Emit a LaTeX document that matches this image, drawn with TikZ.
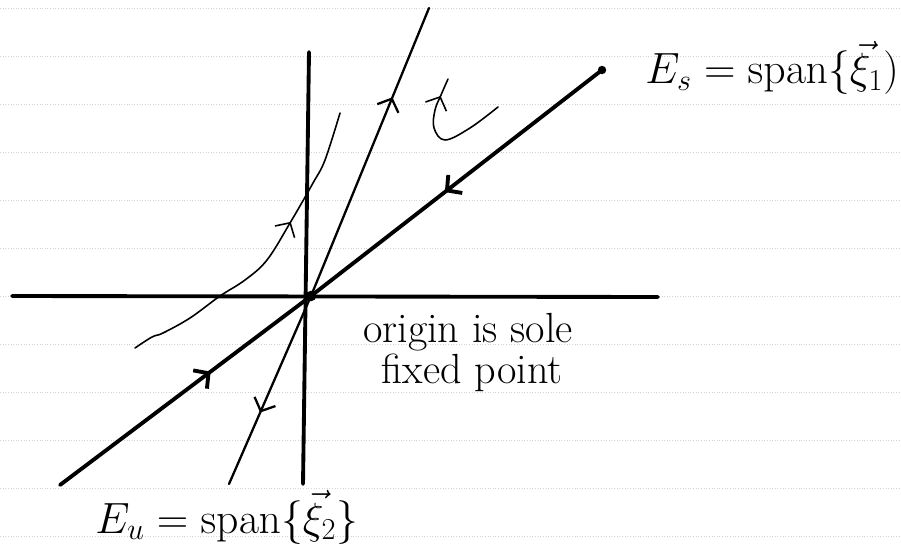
\documentclass[tikz,border=0pt]{standalone}
\usepackage{amsmath,amssymb}
\usepackage{tikz}
\usetikzlibrary{positioning, arrows.meta, decorations.markings, calc}
\tikzset{
  axisline/.style = {line width=2.2pt, line cap=round},
  eigline/.style  = {line width=2.2pt, line cap=round},
  uline/.style    = {line width=1.3pt, line cap=round},
  traj/.style     = {line width=0.9pt, line cap=round},
  ruling/.style   = {gray!35, line width=0.5pt, densely dotted},
  midarr/.style   = {postaction={decorate},
                     decoration={markings,
                       mark=at position #1 with
                         {\arrow{Straight Barb[length=6pt,width=13pt]}}}},
  lbl/.style      = {inner sep=0pt, font=\fontsize{24}{28}\selectfont},
  mlbl/.style     = {inner sep=0pt, font=\fontsize{23}{27}\selectfont},
}

\begin{document}
\begin{tikzpicture}[x=0.02cm, y=-0.02cm]

% ────────────────────────────────────────────────────────────
%  Ruled paper, 901 x 554 (one unit = one pixel, y downwards)
% ────────────────────────────────────────────────────────────
\useasboundingbox (0,0) rectangle (901,554);
\foreach \k in {0,...,11}
  \draw[ruling] (0,{8+48*\k}) -- (901,{8+48*\k});

% ────────────────────────────────────────────────────────────
%  Points
% ────────────────────────────────────────────────────────────
\coordinate (O)      at (311,296);
\coordinate (xl)     at (12,296);
\coordinate (xr)     at (658,297);
\coordinate (yt)     at (309,52);
\coordinate (yb)     at (303,484);
\coordinate (es-top) at (602,70);
\coordinate (es-bot) at (60,485);
\coordinate (eu-top) at (429,8);
\coordinate (eu-bot) at (229,484);

% axes
\draw[axisline] (xl) -- (xr);
\draw[axisline] (yt) -- (yb);

% stable line E_s : flow towards the origin
\draw[eigline, midarr=0.54] (es-top) -- (O);
\draw[eigline, midarr=0.60] (es-bot) -- (O);
\fill (es-top) circle (2.4pt);

% unstable line E_u : flow away from the origin
\draw[uline, midarr=0.69] (O) -- (eu-top);
\draw[uline, midarr=0.62] (O) -- (eu-bot);

\fill (O) circle (3pt);

% ────────────────────────────────────────────────────────────
%  Trajectories
% ────────────────────────────────────────────────────────────
\draw[traj, midarr=0.63] plot[smooth, tension=0.6] coordinates
  {(135,348) (152,337) (163,333) (190,318) (220,296) (245,280)
   (267,260) (290,223) (313,183) (325,160) (340,113)};

\draw[traj, midarr=0.86] plot[smooth, tension=0.6] coordinates
  {(498,107) (470,128) (445,140) (434,128) (435,110) (441,95) (448,79)};

% ────────────────────────────────────────────────────────────
%  Labels
% ────────────────────────────────────────────────────────────
\node[mlbl, anchor=base west] (es-lbl) at (645,84)
  {$E_s = \mathrm{span}\{\vec{\xi}_1)$};
\node[mlbl, anchor=base west] (eu-lbl) at (95,533)
  {$E_u = \mathrm{span}\{\vec{\xi}_2\}$};
\node[lbl, anchor=base] (orig)  at (468,342) {origin is sole};
\node[lbl, anchor=base] (fixpt) at (472,383) {fixed point};

\end{tikzpicture}
\end{document}
